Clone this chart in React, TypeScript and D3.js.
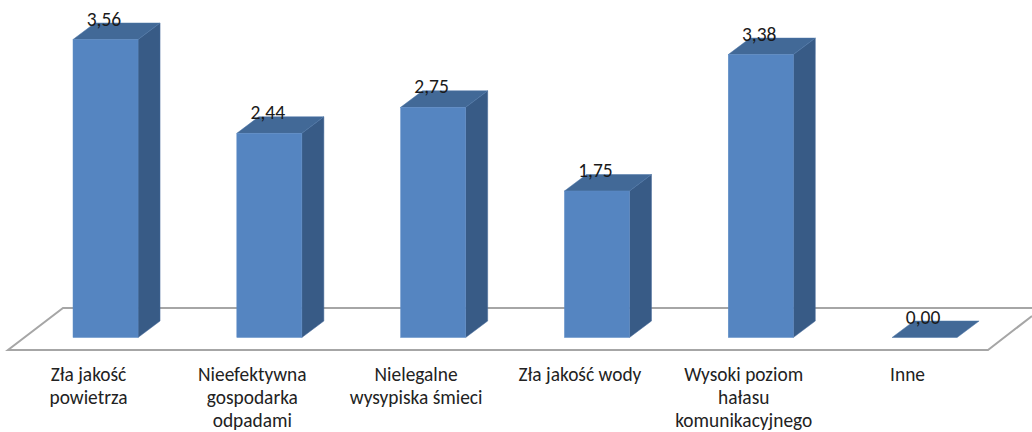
import React from "react";
import * as d3 from "d3";

const labelLines = [
  ["Zła jakość", "powietrza"],
  ["Nieefektywna", "gospodarka", "odpadami"],
  ["Nielegalne", "wysypiska śmieci"],
  ["Zła jakość wody"],
  ["Wysoki poziom", "hałasu", "komunikacyjnego"],
  ["Inne"],
];
const values = [3.56, 2.44, 2.75, 1.75, 3.38, 0.0];
const valueLabels = ["3,56", "2,44", "2,75", "1,75", "3,38", "0,00"];
const keys = ["a", "b", "c", "d", "e", "f"];

const W = 1032;
const H = 432;
const font = "Carlito, Lato, 'Open Sans', sans-serif";

export default function App() {
  const x = d3.scaleBand<string>().domain(keys).range([23.7, 1006.4]).paddingInner(0.603).paddingOuter(0.301);
  const y = d3.scaleLinear().domain([0, 3.56]).range([337.5, 39.5]);
  const dx = 22;
  const dy = -16.5;
  const bw = x.bandwidth();
  const poly = d3.line<[number, number]>().x((d) => d[0]).y((d) => d[1]).curve(d3.curveLinearClosed);
  return (
    <svg width={W} height={H} style={{ position: "absolute", left: 0, top: 0, background: "#fff" }}>
      <path d="M1032 316 L988 350 L8 350 L63 308 L1032 308" fill="none" stroke="#a6a6a6" strokeWidth={2} />
      {values.map((v, i) => {
        const x0 = x(keys[i]) as number;
        const x1 = x0 + bw;
        const yt = y(v);
        const yb = y(0);
        return (
          <g key={keys[i]}>
            {v > 0 && (
              <path d={poly([[x1, yb], [x1 + dx, yb + dy], [x1 + dx, yt + dy], [x1, yt]]) ?? ""} fill="#385b86" stroke="#44699a" strokeWidth={0.5} />
            )}
            <path d={poly([[x0, yt], [x1, yt], [x1 + dx, yt + dy], [x0 + dx, yt + dy]]) ?? ""} fill="#426997" stroke="#4a74a6" strokeWidth={0.5} />
            {v > 0 && (
              <rect x={x0} y={yt} width={bw} height={yb - yt} fill="#5585c1" stroke="#5e8cc5" strokeWidth={0.5} />
            )}
            <text x={x0 + 31} y={yt - 14} textAnchor="middle" fontFamily={font} fontSize={19.5} fill="#1a1a1a">
              {valueLabels[i]}
            </text>
            {labelLines[i].map((line, j) => (
              <text key={line} x={x0 + 15.5} y={380.5 + j * 23.3} textAnchor="middle" fontFamily={font} fontSize={19.4} fill="#222">
                {line}
              </text>
            ))}
          </g>
        );
      })}
    </svg>
  );
}
